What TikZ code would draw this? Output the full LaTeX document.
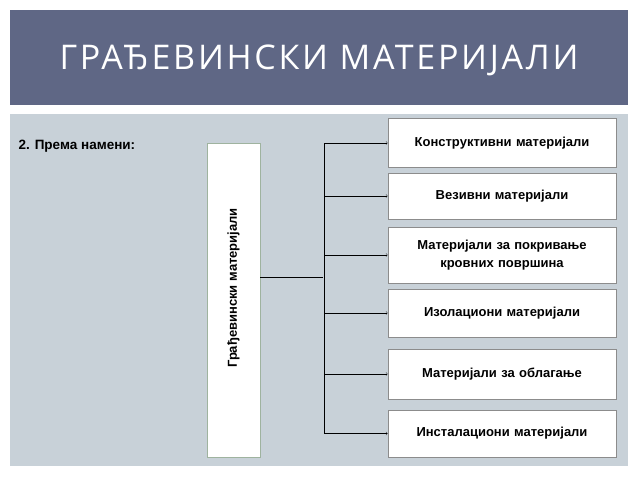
\documentclass[tikz,border=0pt]{standalone}
\usepackage{fontspec}
\setmainfont{Liberation Sans}
\newfontfamily\titlefont[LetterSpace=8]{Open Sans}
\usetikzlibrary{arrows}
\definecolor{barcol}{HTML}{5F6785}
\definecolor{bodycol}{HTML}{C8D1D8}
\definecolor{boxline}{HTML}{8C8C8C}
\definecolor{rootline}{HTML}{9FB39F}
\tikzset{%
  catbox/.style = {draw=boxline, thick, fill=white, rectangle, minimum width=228pt,
    text width=210pt, align=center, font=\bfseries\fontsize{13}{18}\selectfont},
  rootbox/.style = {draw=rootline, thick, fill=white, minimum width=53pt,
    minimum height=314pt}
}
\begin{document}
\begin{tikzpicture}[x=1pt, y=-1pt, >=to]
\useasboundingbox (0,0) rectangle (638,479);
\fill[white] (0,0) rectangle (638,479);
\fill[barcol] (10,10) rectangle (628,105);
\fill[bodycol] (10,114) rectangle (628,466);
\node[text=white, font=\titlefont\fontsize{34}{40}\selectfont] (title) at (319,60) {ГРАЂЕВИНСКИ МАТЕРИЈАЛИ};
\node[anchor=west, font=\bfseries\fontsize{13.5}{16}\selectfont] (crit) at (15,146) {2. Према намени:};

\node[rootbox] (root) at (233.5,300) {};
\node[rotate=90, font=\bfseries\fontsize{13}{16}\selectfont] (rootlbl) at (233.5,288) {Грађевински материјали};

\node[catbox, minimum height=49pt] (k1) at (502,143) {Конструктивни материјали};
\node[catbox, minimum height=46pt] (k2) at (502,196) {Везивни материјали};
\node[catbox, minimum height=56pt] (k3) at (502,255) {Материјали за покривање\\кровних површина};
\node[catbox, minimum height=48pt] (k4) at (502,313) {Изолациони материјали};
\node[catbox, minimum height=50pt] (k5) at (502,374) {Материјали за облагање};
\node[catbox, minimum height=47pt] (k6) at (502,433.5) {Инсталациони материјали};

\coordinate (hub) at (323,277);
\coordinate (top) at (324,143);
\coordinate (bot) at (324,433.5);
\draw (root.east |- hub) -- (hub);
\draw (top) -- (bot);
\foreach \k in {k1,k2,k3,k4,k5,k6}
  \draw[->] (top |- \k.west) -- (\k.west);
\end{tikzpicture}
\end{document}
